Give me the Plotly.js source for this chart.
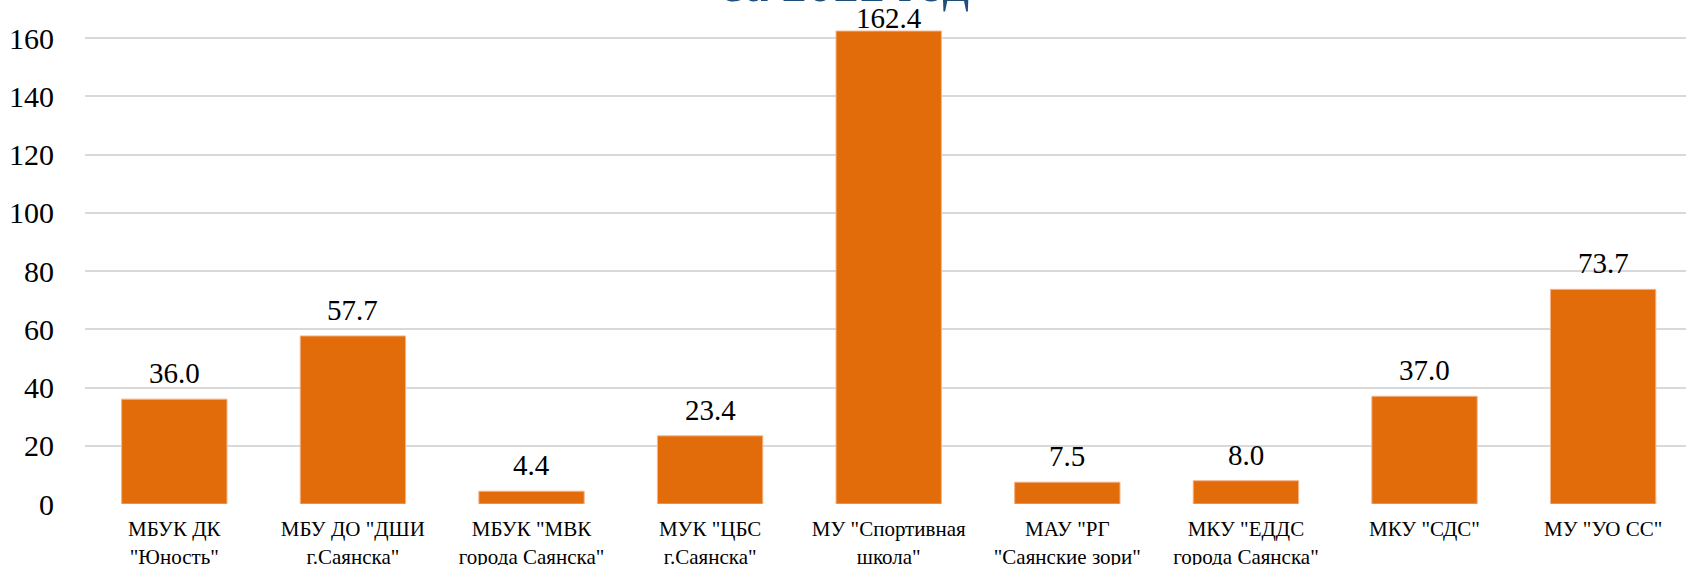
<!DOCTYPE html>
<html>
<head>
<meta charset="utf-8">
<script src="https://cdn.plot.ly/plotly-3.0.1.min.js"></script>
</head>
<body style="margin:0;background:#fff">
<div id="chart" style="width:1686px;height:565px"></div>
<script>
const categories = [
  'МБУК ДК<br>"Юность"',
  'МБУ ДО "ДШИ<br>г.Саянска"',
  'МБУК "МВК<br>города Саянска"',
  'МУК "ЦБС<br>г.Саянска"',
  'МУ "Спортивная<br>школа"',
  'МАУ "РГ<br>"Саянские зори"',
  'МКУ "ЕДДС<br>города Саянска"',
  'МКУ "СДС"',
  'МУ "УО СС"'
];
const values = [36.0, 57.7, 4.4, 23.4, 162.4, 7.5, 8.0, 37.0, 73.7];
const yTicks = [0, 20, 40, 60, 80, 100, 120, 140, 160];
const titleText = 'за 2022 год';

const FAM = 'Liberation Serif';
const W = 1686, H = 565;
const M = {l: 85, r: 0, t: 0, b: 61};
const Y_MAX = 173.05;
const plotH = H - M.t - M.b;

const trace = {
  type: 'bar',
  x: categories,
  y: values,
  marker: {color: '#E36C0A', line: {color: '#F6B488', width: 1}},
  hoverinfo: 'x+y'
};

// value labels above bars, kept inside the chart area like the original
const annotations = categories.map((c, i) => {
  const spaceAbove = plotH * (1 - values[i] / Y_MAX);
  return {
    x: c, y: values[i], xref: 'x', yref: 'y',
    text: values[i].toFixed(1),
    showarrow: false, yanchor: 'bottom', xanchor: 'center',
    yshift: Math.min(9, spaceAbove - 35), borderpad: 0,
    font: {family: FAM, size: 29, color: '#000000'}
  };
});

const layout = {
  width: W, height: H,
  margin: {l: M.l, r: M.r, t: M.t, b: M.b, pad: 0},
  paper_bgcolor: '#ffffff', plot_bgcolor: '#ffffff',
  showlegend: false,
  bargap: 0.41,
  font: {family: FAM},
  title: {
    text: titleText,
    font: {family: FAM, size: 52, color: '#1F4E79'},
    x: 0.5024, xanchor: 'center', xref: 'container',
    y: 1 - 1/565, yanchor: 'bottom', yref: 'container'
  },
  xaxis: {
    type: 'category',
    range: [-0.5, 8.464],
    showgrid: false, zeroline: false, showline: false,
    ticks: 'outside', ticklen: 6, tickcolor: 'rgba(0,0,0,0)',
    tickfont: {family: FAM, size: 21, color: '#000000'},
    tickangle: 0
  },
  yaxis: {
    range: [0, Y_MAX],
    tickvals: yTicks, ticktext: yTicks.map(String),
    showgrid: true, gridcolor: '#D9D9D9', gridwidth: 1.5,
    zeroline: false, showline: false,
    ticks: 'outside', ticklen: 24, tickcolor: 'rgba(0,0,0,0)',
    tickfont: {family: FAM, size: 30, color: '#000000'}
  },
  annotations: annotations
};

Plotly.newPlot('chart', [trace], layout, {displayModeBar: false});
</script>
</body>
</html>
